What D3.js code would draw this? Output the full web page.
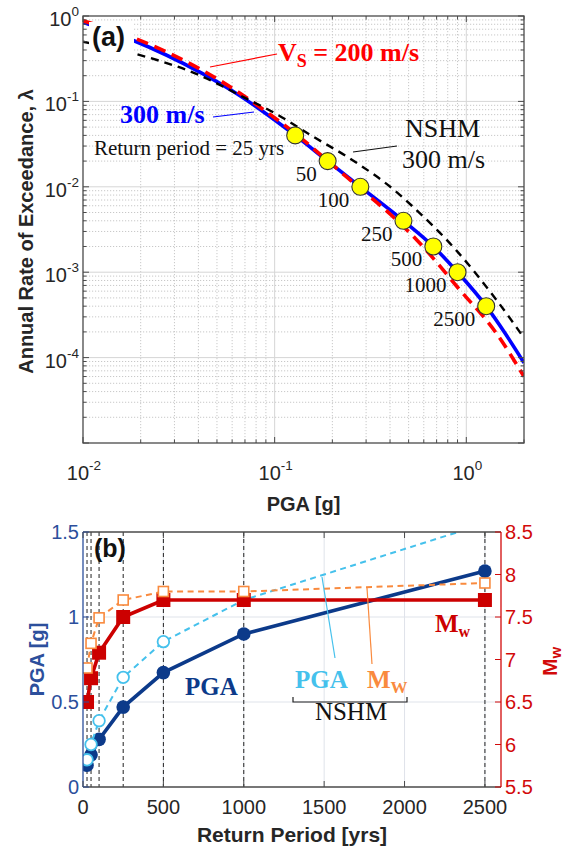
<!DOCTYPE html>
<html>
<head>
<meta charset="utf-8">
<script src="https://cdn.jsdelivr.net/npm/d3@7"></script>
<style>
  body { margin: 0; background: #fff; }
  svg { display: block; }
</style>
</head>
<body>
<svg id="chart" width="578" height="848"></svg>
<script>
// ---------- Panel (a): hazard curves, PGA [g] vs annual rate of exceedance ----------
const pgaVs300 = [0.01, 0.0182, 0.0407, 0.06, 0.0836, 0.128, 0.189, 0.28, 0.47, 0.673, 0.90, 1.27, 1.6, 2.0];
const lamVs300 = [0.84, 0.52, 0.22, 0.133, 0.081, 0.04, 0.02, 0.01, 0.004, 0.002, 0.001, 0.0004, 0.00019, 0.000087];

const pgaVs200 = [0.01, 0.0182, 0.0407, 0.06, 0.0836, 0.13, 0.19, 0.28, 0.4, 0.55, 0.92, 1.43, 2.0];
const lamVs200 = [0.88, 0.56, 0.24, 0.143, 0.086, 0.041, 0.02, 0.0095, 0.0048, 0.0024, 0.00063, 0.000195, 0.00006];

const pgaNSHM = [0.01, 0.018, 0.04, 0.07, 0.1, 0.158, 0.255, 0.43, 0.52, 0.887, 1.43, 2.0];
const lamNSHM = [0.5, 0.37, 0.205, 0.11, 0.073, 0.039, 0.0205, 0.0088, 0.006, 0.0018, 0.00048, 0.00017];

// ---------- Panel (b): design values by return period ----------
const returnPeriods = [25, 50, 100, 250, 500, 1000, 2500];
const pga300 = [0.128, 0.189, 0.28, 0.47, 0.673, 0.90, 1.27];
const mw300 = [6.5, 6.78, 7.08, 7.5, 7.7, 7.7, 7.7];
const pgaNSHMb = [0.16, 0.25, 0.39, 0.645, 0.855, 1.10, 1.55];
const mwNSHM = [6.9, 7.19, 7.49, 7.7, 7.8, 7.8, 7.9];
const refPeriods = [25, 50, 100, 250, 500, 1000, 2500];

const xTicksA = [0.01, 0.1, 1];
const yTicksA = [1e-4, 1e-3, 1e-2, 1e-1, 1];
const xTicksB = [0, 500, 1000, 1500, 2000, 2500];
const pgaTicksB = [0, 0.5, 1, 1.5];
const mwTicksB = [5.5, 6, 6.5, 7, 7.5, 8, 8.5];

// ---------- styling ----------
const SANS = "'Liberation Sans', Arial, sans-serif";
const SERIF = "'Liberation Serif', 'Times New Roman', serif";
const AXIS = "#4a4a4a";
const TXT = "#262626";
const C_BLUE = "#0000ff", C_RED = "#ff0000";
const C_NAVY = "#0c3a8a", C_LBLUE = "#45c1ec", C_DRED = "#cc0000", C_ORANGE = "#f98a3e";
const C_LAXIS = "#2c4f9c", C_RAXIS = "#d20a0a";

const svg = d3.select("#chart");
svg.append("rect").attr("width", 578).attr("height", 848).attr("fill", "#fff");
const defs = svg.append("defs");

// ======================= PANEL (a) =======================
const A = { l: 83, r: 524, t: 16, b: 443 };
const xA = d3.scaleLog().domain([0.01, 2]).range([A.l, A.r]);
const yA = d3.scaleLog().domain([1e-5, 1]).range([A.b, A.t]);

function logSteps(lo, hi) {
  const out = [];
  for (let e = Math.floor(Math.log10(lo)); e <= Math.ceil(Math.log10(hi)); e++) {
    for (let m = 1; m < 10; m++) {
      const v = m * Math.pow(10, e);
      if (v >= lo * 0.9999 && v <= hi * 1.0001) out.push({ v, major: m === 1 });
    }
  }
  return out;
}
const xStepsA = logSteps(0.01, 2);
const yStepsA = logSteps(1e-5, 1);

const gA = svg.append("g");
// grid
const gridA = gA.append("g");
xStepsA.filter(d => d.v > 0.0101 && d.v < 1.99).forEach(d => {
  gridA.append("line").attr("x1", xA(d.v)).attr("x2", xA(d.v)).attr("y1", A.t).attr("y2", A.b)
    .attr("stroke", d.major ? "#d6d6d6" : "#c8c8c8").attr("stroke-width", 1)
    .attr("stroke-dasharray", d.major ? null : "1.2,1.8");
});
yStepsA.filter(d => d.v > 1.01e-5 && d.v < 0.99).forEach(d => {
  gridA.append("line").attr("y1", yA(d.v)).attr("y2", yA(d.v)).attr("x1", A.l).attr("x2", A.r)
    .attr("stroke", d.major ? "#d6d6d6" : "#c8c8c8").attr("stroke-width", 1)
    .attr("stroke-dasharray", d.major ? null : "1.2,1.8");
});

defs.append("clipPath").attr("id", "clipA").append("rect")
  .attr("x", A.l).attr("y", A.t).attr("width", A.r - A.l).attr("height", A.b - A.t);

const lineA = d3.line().x(d => xA(d[0])).y(d => yA(d[1])).curve(d3.curveMonotoneX);
const curvesA = gA.append("g").attr("clip-path", "url(#clipA)");
curvesA.append("path").datum(d3.zip(pgaVs300, lamVs300)).attr("d", lineA)
  .attr("fill", "none").attr("stroke", C_BLUE).attr("stroke-width", 3.6);
curvesA.append("path").datum(d3.zip(pgaVs200, lamVs200)).attr("d", lineA)
  .attr("fill", "none").attr("stroke", C_RED).attr("stroke-width", 3.6).attr("stroke-dasharray", "12,7");
curvesA.append("path").datum(d3.zip(pgaNSHM, lamNSHM)).attr("d", lineA)
  .attr("fill", "none").attr("stroke", "#000").attr("stroke-width", 2.4).attr("stroke-dasharray", "8,6");

// return-period markers on the 300 m/s curve
const rpPts = returnPeriods.map((T, i) => ({ T, pga: pga300[i], lam: 1 / T }));
gA.append("g").selectAll("circle").data(rpPts).join("circle")
  .attr("cx", d => xA(d.pga)).attr("cy", d => yA(d.lam)).attr("r", 8.5)
  .attr("fill", "#ffff00").attr("stroke", "#333").attr("stroke-width", 1.1);
gA.append("g").selectAll("text").data(rpPts).join("text")
  .attr("x", d => xA(d.pga) - 11).attr("y", d => yA(d.lam) + 20)
  .attr("text-anchor", "end").attr("font-family", SERIF).attr("font-size", 21).attr("fill", "#111")
  .text(d => d.T === 25 ? "Return period = 25 yrs" : d.T);

// axes frame + ticks (inward, all four sides)
const axA = gA.append("g").attr("stroke", AXIS).attr("stroke-width", 1);
axA.append("rect").attr("x", A.l).attr("y", A.t).attr("width", A.r - A.l).attr("height", A.b - A.t)
  .attr("fill", "none").attr("stroke", AXIS).attr("stroke-width", 1.3);
xStepsA.forEach(d => {
  const x = xA(d.v), len = d.major ? 6 : 3.5;
  axA.append("line").attr("x1", x).attr("x2", x).attr("y1", A.b).attr("y2", A.b - len);
  axA.append("line").attr("x1", x).attr("x2", x).attr("y1", A.t).attr("y2", A.t + len);
});
yStepsA.forEach(d => {
  const y = yA(d.v), len = d.major ? 6 : 3.5;
  axA.append("line").attr("y1", y).attr("y2", y).attr("x1", A.l).attr("x2", A.l + len);
  axA.append("line").attr("y1", y).attr("y2", y).attr("x1", A.r).attr("x2", A.r - len);
});

function powText(g, x, y, exp, anchor) {
  const t = g.append("text").attr("x", x).attr("y", y).attr("text-anchor", anchor)
    .attr("font-family", SANS).attr("font-size", 20).attr("fill", TXT);
  t.append("tspan").text("10");
  t.append("tspan").attr("dy", -10).attr("font-size", 13.5).text(exp);
  return t;
}
xTicksA.forEach(v => powText(gA, xA(v) + 1, 480, String(Math.round(Math.log10(v))), "middle"));
yTicksA.forEach(v => powText(gA, 79, yA(v) + 10, String(Math.round(Math.log10(v))), "end"));

gA.append("text").attr("x", (A.l + A.r) / 2).attr("y", 511).attr("text-anchor", "middle")
  .attr("font-family", SANS).attr("font-weight", "bold").attr("font-size", 20).attr("fill", TXT)
  .text("PGA [g]");
gA.append("text").attr("transform", `translate(33,${(A.t + A.b) / 2 + 2}) rotate(-90)`)
  .attr("text-anchor", "middle").attr("font-family", SANS).attr("font-weight", "bold")
  .attr("font-size", 20).attr("fill", TXT).text("Annual Rate of Exceedance, λ");

// panel tag with white backing
gA.append("rect").attr("x", 89).attr("y", 22).attr("width", 45).attr("height", 32).attr("fill", "#fff");
gA.append("text").attr("x", 92).attr("y", 46).attr("font-family", SANS).attr("font-weight", "bold")
  .attr("font-size", 27).attr("fill", "#111").text("(a)");

// curve annotations
gA.append("line").attr("x1", 210).attr("y1", 67).attr("x2", 277).attr("y2", 54)
  .attr("stroke", C_RED).attr("stroke-width", 1.2);
const vsT = gA.append("text").attr("x", 278).attr("y", 61).attr("font-family", SERIF)
  .attr("font-weight", "bold").attr("font-size", 26).attr("fill", C_RED);
vsT.append("tspan").text("V");
vsT.append("tspan").attr("dy", 6).attr("font-size", 18).text("S");
vsT.append("tspan").attr("dy", -6).text(" = 200 m/s");

gA.append("line").attr("x1", 213).attr("y1", 117).attr("x2", 254).attr("y2", 112)
  .attr("stroke", C_BLUE).attr("stroke-width", 1.2);
gA.append("text").attr("x", 120).attr("y", 123).attr("font-family", SERIF).attr("font-weight", "bold")
  .attr("font-size", 26).attr("fill", C_BLUE).text("300 m/s");

gA.append("line").attr("x1", 353).attr("y1", 152).attr("x2", 397).attr("y2", 146)
  .attr("stroke", "#111").attr("stroke-width", 1.2);
gA.append("text").attr("x", 405).attr("y", 137).attr("font-family", SERIF)
  .attr("font-size", 26).attr("fill", "#111").text("NSHM");
gA.append("text").attr("x", 402).attr("y", 168).attr("font-family", SERIF)
  .attr("font-size", 26).attr("fill", "#111").text("300 m/s");

// ======================= PANEL (b) =======================
const B = { l: 83, r: 501, t: 532, b: 787 };
const xB = d3.scaleLinear().domain([0, 2600]).range([B.l, B.r]);
const yB = d3.scaleLinear().domain([0, 1.5]).range([B.b, B.t]);
const yM = d3.scaleLinear().domain([5.5, 8.5]).range([B.b, B.t]);

const gB = svg.append("g");
// grid
xTicksB.filter(v => v > 0).forEach(v => {
  gB.append("line").attr("x1", xB(v)).attr("x2", xB(v)).attr("y1", B.t).attr("y2", B.b)
    .attr("stroke", "#dfe3ea").attr("stroke-width", 1);
});
pgaTicksB.filter(v => v > 0 && v < 1.5).forEach(v => {
  gB.append("line").attr("y1", yB(v)).attr("y2", yB(v)).attr("x1", B.l).attr("x2", B.r)
    .attr("stroke", "#dfe3ea").attr("stroke-width", 1);
});
// return period reference lines
refPeriods.forEach(T => {
  gB.append("line").attr("x1", xB(T)).attr("x2", xB(T)).attr("y1", B.t).attr("y2", B.b)
    .attr("stroke", "#222").attr("stroke-width", 1).attr("stroke-dasharray", "4,3");
});

defs.append("clipPath").attr("id", "clipB").append("rect")
  .attr("x", B.l).attr("y", B.t).attr("width", B.r - B.l).attr("height", B.b - B.t);
const dataB = gB.append("g").attr("clip-path", "url(#clipB)");

const pgaLine = d3.line().x(d => xB(d[0])).y(d => yB(d[1]));
const mwLine = d3.line().x(d => xB(d[0])).y(d => yM(d[1]));

// PGA, 300 m/s
dataB.append("path").datum(d3.zip(returnPeriods, pga300)).attr("d", pgaLine)
  .attr("fill", "none").attr("stroke", C_NAVY).attr("stroke-width", 3.6);
dataB.append("g").selectAll("circle").data(d3.zip(returnPeriods, pga300)).join("circle")
  .attr("cx", d => xB(d[0])).attr("cy", d => yB(d[1])).attr("r", 6.8).attr("fill", C_NAVY);

// PGA, NSHM
dataB.append("path").datum(d3.zip(returnPeriods, pgaNSHMb)).attr("d", pgaLine)
  .attr("fill", "none").attr("stroke", C_LBLUE).attr("stroke-width", 2).attr("stroke-dasharray", "6,4.5");
dataB.append("g").selectAll("circle").data(d3.zip(returnPeriods, pgaNSHMb)).join("circle")
  .attr("cx", d => xB(d[0])).attr("cy", d => yB(d[1])).attr("r", 5.8)
  .attr("fill", "#fff").attr("stroke", C_LBLUE).attr("stroke-width", 1.8);

// Mw, 300 m/s
dataB.append("path").datum(d3.zip(returnPeriods, mw300)).attr("d", mwLine)
  .attr("fill", "none").attr("stroke", C_DRED).attr("stroke-width", 3.6);
dataB.append("g").selectAll("rect").data(d3.zip(returnPeriods, mw300)).join("rect")
  .attr("x", d => xB(d[0]) - 7).attr("y", d => yM(d[1]) - 7).attr("width", 14).attr("height", 14)
  .attr("fill", C_DRED);

// Mw, NSHM
dataB.append("path").datum(d3.zip(returnPeriods, mwNSHM)).attr("d", mwLine)
  .attr("fill", "none").attr("stroke", C_ORANGE).attr("stroke-width", 2).attr("stroke-dasharray", "6,4.5");
dataB.append("g").selectAll("rect").data(d3.zip(returnPeriods, mwNSHM)).join("rect")
  .attr("x", d => xB(d[0]) - 5).attr("y", d => yM(d[1]) - 5).attr("width", 10).attr("height", 10)
  .attr("fill", "#fff").attr("stroke", C_ORANGE).attr("stroke-width", 1.6);

// axes
gB.append("line").attr("x1", B.l).attr("x2", B.r).attr("y1", B.b).attr("y2", B.b).attr("stroke", AXIS).attr("stroke-width", 1.3);
gB.append("line").attr("x1", B.l).attr("x2", B.r).attr("y1", B.t).attr("y2", B.t).attr("stroke", AXIS).attr("stroke-width", 1.3);
gB.append("line").attr("x1", B.l).attr("x2", B.l).attr("y1", B.t).attr("y2", B.b).attr("stroke", C_LAXIS).attr("stroke-width", 1.3);
gB.append("line").attr("x1", B.r).attr("x2", B.r).attr("y1", B.t).attr("y2", B.b).attr("stroke", C_RAXIS).attr("stroke-width", 1.3);

xTicksB.forEach(v => {
  gB.append("line").attr("x1", xB(v)).attr("x2", xB(v)).attr("y1", B.b).attr("y2", B.b - 6).attr("stroke", AXIS);
  gB.append("line").attr("x1", xB(v)).attr("x2", xB(v)).attr("y1", B.t).attr("y2", B.t + 6).attr("stroke", AXIS);
  gB.append("text").attr("x", xB(v)).attr("y", 814).attr("text-anchor", "middle")
    .attr("font-family", SANS).attr("font-size", 20).attr("fill", TXT).text(v);
});
pgaTicksB.forEach(v => {
  gB.append("line").attr("x1", B.l).attr("x2", B.l + 6).attr("y1", yB(v)).attr("y2", yB(v)).attr("stroke", C_LAXIS);
  gB.append("text").attr("x", 79).attr("y", yB(v) + 7).attr("text-anchor", "end")
    .attr("font-family", SANS).attr("font-size", 20).attr("fill", C_LAXIS).text(v);
});
mwTicksB.forEach(v => {
  gB.append("line").attr("x1", B.r).attr("x2", B.r - 6).attr("y1", yM(v)).attr("y2", yM(v)).attr("stroke", C_RAXIS);
  gB.append("text").attr("x", 505).attr("y", yM(v) + 7).attr("text-anchor", "start")
    .attr("font-family", SANS).attr("font-size", 20).attr("fill", C_RAXIS).text(v);
});

gB.append("text").attr("x", (B.l + B.r) / 2).attr("y", 842).attr("text-anchor", "middle")
  .attr("font-family", SANS).attr("font-weight", "bold").attr("font-size", 21).attr("fill", TXT)
  .text("Return Period [yrs]");
gB.append("text").attr("transform", `translate(44,${(B.t + B.b) / 2}) rotate(-90)`)
  .attr("text-anchor", "middle").attr("font-family", SANS).attr("font-weight", "bold")
  .attr("font-size", 20).attr("fill", C_LAXIS).text("PGA [g]");
const mwAx = gB.append("text").attr("transform", `translate(557,${(B.t + B.b) / 2 + 2}) rotate(-90)`)
  .attr("text-anchor", "middle").attr("font-family", SANS).attr("font-weight", "bold")
  .attr("font-size", 21).attr("fill", C_RAXIS);
mwAx.append("tspan").text("M");
mwAx.append("tspan").attr("dy", 4).attr("font-size", 15).text("w");

// panel tag
gB.append("text").attr("x", 94).attr("y", 557).attr("font-family", SANS).attr("font-weight", "bold")
  .attr("font-size", 25).attr("fill", "#111").text("(b)");

// series labels
gB.append("text").attr("x", 185).attr("y", 695).attr("font-family", SERIF).attr("font-weight", "bold")
  .attr("font-size", 25).attr("fill", C_NAVY).text("PGA");
const mwLab = gB.append("text").attr("x", 435).attr("y", 632).attr("font-family", SERIF)
  .attr("font-weight", "bold").attr("font-size", 25).attr("fill", C_DRED);
mwLab.append("tspan").text("M");
mwLab.append("tspan").attr("dy", 5).attr("font-size", 16).text("w");

gB.append("text").attr("x", 295).attr("y", 688).attr("font-family", SERIF).attr("font-weight", "bold")
  .attr("font-size", 25).attr("fill", C_LBLUE).text("PGA");
const mwN = gB.append("text").attr("x", 367).attr("y", 688).attr("font-family", SERIF)
  .attr("font-weight", "bold").attr("font-size", 25).attr("fill", C_ORANGE);
mwN.append("tspan").text("M");
mwN.append("tspan").attr("dy", 5).attr("font-size", 17).text("W");

gB.append("line").attr("x1", 335).attr("y1", 658).attr("x2", 322).attr("y2", 577)
  .attr("stroke", C_LBLUE).attr("stroke-width", 1.2);
gB.append("line").attr("x1", 372).attr("y1", 664).attr("x2", 367).attr("y2", 588)
  .attr("stroke", C_ORANGE).attr("stroke-width", 1.2);
gB.append("path").attr("d", "M293,697 V702 H407 V697").attr("fill", "none")
  .attr("stroke", "#222").attr("stroke-width", 1.2);
gB.append("text").attr("x", 351).attr("y", 720).attr("text-anchor", "middle")
  .attr("font-family", SERIF).attr("font-size", 25).attr("fill", "#111").text("NSHM");
</script>
</body>
</html>
